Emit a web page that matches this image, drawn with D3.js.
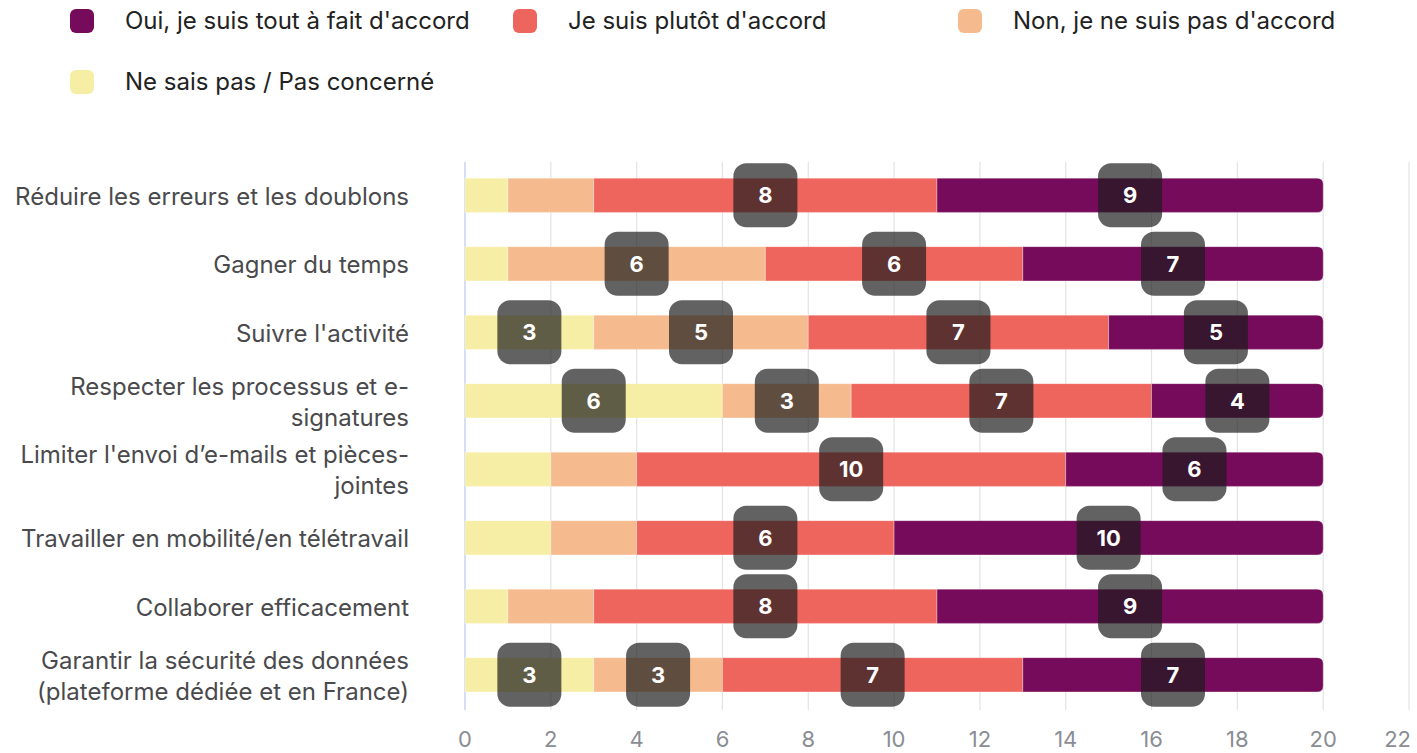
<!DOCTYPE html>
<html>
<head>
<meta charset="utf-8">
<script src="https://cdn.jsdelivr.net/npm/d3@7"></script>
<style>
  body { margin: 0; background: #fff; font-family: Inter, "Noto Sans", sans-serif; }
  svg text { font-family: Inter, "Noto Sans", sans-serif; }
</style>
</head>
<body>
<div id="chart"></div>
<script>
// DATA
const categories = [
  ["Réduire les erreurs et les doublons"],
  ["Gagner du temps"],
  ["Suivre l'activité"],
  ["Respecter les processus et e-", "signatures"],
  ["Limiter l'envoi d’e-mails et pièces-", "jointes"],
  ["Travailler en mobilité/en télétravail"],
  ["Collaborer efficacement"],
  ["Garantir la sécurité des données", "(plateforme dédiée et en France)"]
];
const seriesNames = ["Ne sais pas / Pas concerné", "Non, je ne suis pas d'accord", "Je suis plutôt d'accord", "Oui, je suis tout à fait d'accord"];
const neSaisPas = [1, 1, 3, 6, 2, 2, 1, 3];
const nonAccord = [2, 6, 5, 3, 2, 2, 2, 3];
const plutotAccord = [8, 6, 7, 7, 10, 6, 8, 7];
const toutAFait = [9, 7, 5, 4, 6, 10, 9, 7];
const xTicks = [0, 2, 4, 6, 8, 10, 12, 14, 16, 18, 20, 22];
const legendOrder = [3, 2, 1, 0];

const colors = ["#f7eea6", "#f5bb8f", "#ee655e", "#770b5b"];

// 1: SVG
const W = 1417, H = 753;
const svg = d3.select("#chart").append("svg")
  .attr("width", W).attr("height", H);

// 2: SCALES
const x = d3.scaleLinear().domain([0, 22]).range([465, 1409]);
const y = d3.scaleBand().domain(d3.range(categories.length)).range([161, 709]).paddingInner(0.5).paddingOuter(0.25);

// stack
const rows = categories.map((c, i) => ({ i, v: [neSaisPas[i], nonAccord[i], plutotAccord[i], toutAFait[i]] }));
const stack = d3.stack().keys([0, 1, 2, 3]).value((d, k) => d.v[k]);
const layers = stack(rows);

// 3: GRID
svg.append("g").selectAll("line")
  .data(xTicks.slice(1))
  .enter().append("line")
  .attr("x1", d => x(d)).attr("x2", d => x(d))
  .attr("y1", 162).attr("y2", 710)
  .attr("stroke", "#e3e3e6").attr("stroke-width", 1.2);

svg.append("line")
  .attr("x1", x(0)).attr("x2", x(0))
  .attr("y1", 162).attr("y2", 710)
  .attr("stroke", "#c9d5ee").attr("stroke-width", 1.5);

// 4: BARS
const bh = y.bandwidth();
layers.forEach((layer, k) => {
  svg.append("g").selectAll("path")
    .data(layer)
    .enter().append("path")
    .attr("fill", colors[k])
    .attr("stroke", "rgba(255,255,255,0.5)")
    .attr("stroke-width", 0.6)
    .attr("d", d => {
      const x0 = x(d[0]), x1 = x(d[1]), y0 = y(d.data.i), y1 = y0 + bh;
      if (k === 3) {
        const r = 6;
        return `M${x0},${y0}H${x1 - r}Q${x1},${y0} ${x1},${y0 + r}V${y1 - r}Q${x1},${y1} ${x1 - r},${y1}H${x0}Z`;
      }
      return `M${x0},${y0}H${x1}V${y1}H${x0}Z`;
    });
});

// 5: VALUE LABELS
const lbl = [];
layers.forEach((layer, k) => layer.forEach(d => {
  const v = d[1] - d[0];
  if (v >= 3) lbl.push({ v, cx: x((d[0] + d[1]) / 2), cy: y(d.data.i) + bh / 2 });
}));
const lg = svg.append("g").selectAll("g").data(lbl).enter().append("g")
  .attr("transform", d => `translate(${d.cx},${d.cy})`);
lg.append("rect")
  .attr("x", -32).attr("y", -32).attr("width", 64).attr("height", 64)
  .attr("rx", 13)
  .attr("fill", "rgba(28,28,28,0.69)");
lg.append("text")
  .attr("text-anchor", "middle").attr("dy", "0.36em")
  .attr("fill", "#fff").attr("font-size", 22).attr("font-weight", 700)
  .text(d => d.v);

// 6: Y LABELS
const yl = svg.append("g").selectAll("text").data(categories).enter().append("text")
  .attr("text-anchor", "end")
  .attr("fill", "#4a4a4d")
  .attr("font-size", 24);
yl.each(function(lines, i) {
  const cy = y(i) + bh / 2 + 1;
  const lh = 31;
  lines.forEach((t, j) => {
    d3.select(this).append("tspan")
      .attr("x", 409)
      .attr("y", cy + (j - (lines.length - 1) / 2) * lh)
      .attr("dy", "0.35em")
      .text(t);
  });
});

// 7: X AXIS LABELS
svg.append("g").selectAll("text").data(xTicks).enter().append("text")
  .attr("x", (d, i) => i === xTicks.length - 1 ? x(d) + 2 : x(d))
  .attr("y", 739).attr("dy", "0.35em")
  .attr("text-anchor", (d, i) => i === xTicks.length - 1 ? "end" : "middle")
  .attr("fill", "#8a8d93").attr("font-size", 22)
  .text(d => d);

// 8: LEGEND
const legPos = [[70, 21], [513, 21], [958, 21], [70, 82]];
const leg = svg.append("g").selectAll("g").data(legendOrder).enter().append("g")
  .attr("transform", (d, i) => `translate(${legPos[i][0]},${legPos[i][1]})`);
leg.append("rect")
  .attr("x", 0).attr("y", -12).attr("width", 24).attr("height", 24).attr("rx", 6)
  .attr("fill", d => colors[d]);
leg.append("text")
  .attr("x", 55).attr("dy", "0.35em")
  .attr("fill", "#222").attr("font-size", 24)
  .text(d => seriesNames[d]);
</script>
</body>
</html>
